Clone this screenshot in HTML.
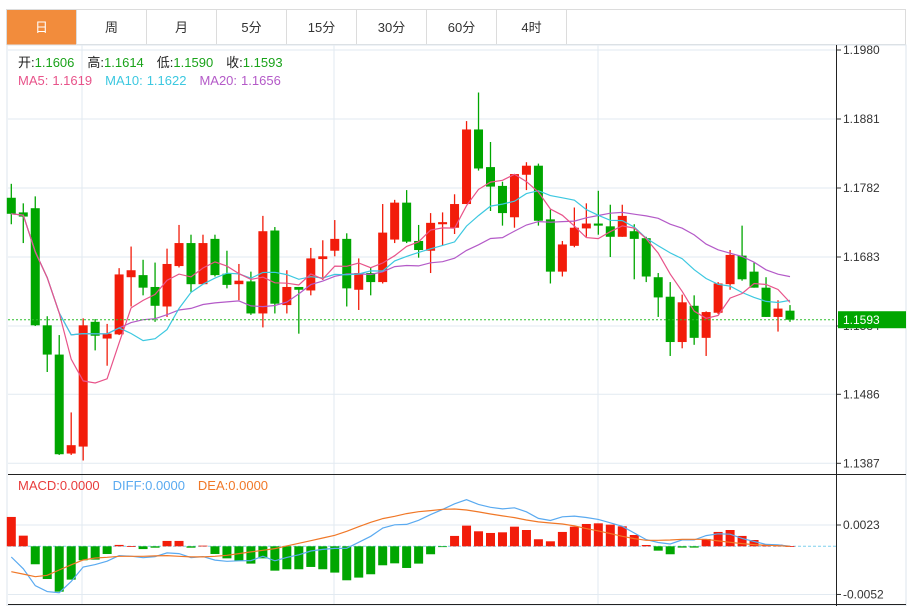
<!DOCTYPE html>
<html><head><meta charset="utf-8">
<style>
body{margin:0;background:#fff;font-family:"Liberation Sans","Noto Sans CJK SC",sans-serif;}
#wrap{position:relative;width:914px;height:606px;overflow:hidden;background:#fff;}
.tab{position:absolute;top:10px;height:35px;width:70px;box-sizing:border-box;border-right:1px solid #dcdcdc;text-align:center;line-height:35px;font-size:13px;color:#333;}
.tab.on{background:#f28c3c;color:#fff;}
</style></head><body>
<div id="wrap">
<div style="position:absolute;left:6px;top:9px;width:900px;height:36px;border:1px solid #dcdcdc;box-sizing:border-box;"></div>
<div class="tab on" style="left:7px">日</div>
<div class="tab" style="left:77px">周</div>
<div class="tab" style="left:147px">月</div>
<div class="tab" style="left:217px">5分</div>
<div class="tab" style="left:287px">15分</div>
<div class="tab" style="left:357px">30分</div>
<div class="tab" style="left:427px">60分</div>
<div class="tab" style="left:497px">4时</div>
<svg id="svg" width="914" height="606" style="position:absolute;left:0;top:0"></svg>
</div>
<script>
const opens=[1.1768,1.1747,1.1753,1.1585,1.1543,1.1401,1.1411,1.1590,1.1566,1.1572,1.1654,1.1657,1.1640,1.1612,1.1670,1.1703,1.1644,1.1709,1.1659,1.1644,1.1648,1.1602,1.1721,1.1614,1.1640,1.1635,1.1680,1.1692,1.1709,1.1636,1.1660,1.1647,1.1708,1.1761,1.1706,1.1692,1.1730,1.1725,1.1759,1.1866,1.1812,1.1785,1.1740,1.1801,1.1814,1.1737,1.1662,1.1699,1.1724,1.1731,1.1727,1.1712,1.1720,1.1710,1.1654,1.1626,1.1561,1.1613,1.1567,1.1603,1.1644,1.1685,1.1662,1.1639,1.1597,1.1606];
const highs=[1.1788,1.1760,1.1770,1.1598,1.1571,1.1460,1.1595,1.1594,1.1587,1.1667,1.1698,1.1679,1.1675,1.1695,1.1729,1.1715,1.1715,1.1715,1.1692,1.1673,1.1662,1.1742,1.1726,1.1664,1.1640,1.1696,1.1707,1.1736,1.1717,1.1681,1.1668,1.1759,1.1765,1.1779,1.1729,1.1746,1.1747,1.1773,1.1878,1.1919,1.1848,1.1791,1.1802,1.1819,1.1817,1.1751,1.1706,1.1754,1.1760,1.1778,1.1758,1.1758,1.1730,1.1712,1.1660,1.1647,1.1629,1.1628,1.1605,1.1647,1.1693,1.1728,1.1675,1.1654,1.1621,1.1614];
const lows=[1.1730,1.1703,1.1584,1.1518,1.1399,1.1399,1.1391,1.1549,1.1527,1.1571,1.1612,1.1628,1.1590,1.1597,1.1668,1.1633,1.1644,1.1655,1.1638,1.1621,1.1600,1.1582,1.1602,1.1602,1.1573,1.1628,1.1650,1.1684,1.1612,1.1607,1.1628,1.1645,1.1703,1.1703,1.1682,1.1660,1.1700,1.1716,1.1759,1.1807,1.1749,1.1728,1.1725,1.1779,1.1728,1.1645,1.1655,1.1697,1.1712,1.1715,1.1683,1.1712,1.1651,1.1647,1.1597,1.1541,1.1552,1.1557,1.1541,1.1601,1.1636,1.1649,1.1639,1.1597,1.1576,1.1590];
const closes=[1.1745,1.1741,1.1585,1.1543,1.1400,1.1413,1.1585,1.1570,1.1573,1.1658,1.1664,1.1639,1.1613,1.1673,1.1703,1.1644,1.1703,1.1657,1.1643,1.1649,1.1602,1.1720,1.1616,1.1640,1.1636,1.1681,1.1684,1.1709,1.1638,1.1660,1.1647,1.1718,1.1761,1.1705,1.1693,1.1732,1.1733,1.1759,1.1866,1.1810,1.1784,1.1746,1.1802,1.1814,1.1735,1.1662,1.1701,1.1725,1.1731,1.1728,1.1712,1.1742,1.1709,1.1655,1.1625,1.1561,1.1618,1.1567,1.1604,1.1645,1.1686,1.1651,1.1639,1.1597,1.1609,1.1593];
const macdHist=[0.00317,0.00115,-0.00194,-0.00353,-0.0049,-0.0036,-0.00151,-0.00144,-0.00083,0.00015,0.00002,-0.0003,-0.00015,0.00058,0.00058,-0.00015,0.00007,-0.00083,-0.0013,-0.00155,-0.00187,-0.0013,-0.00263,-0.00248,-0.00248,-0.00223,-0.00248,-0.00284,-0.00367,-0.00338,-0.00302,-0.00205,-0.00184,-0.00234,-0.00187,-0.00086,-0.00003,0.00112,0.00223,0.00162,0.00144,0.00151,0.00212,0.00176,0.00076,0.00054,0.00155,0.00212,0.00241,0.00248,0.00234,0.00216,0.00122,0.00014,-0.00047,-0.00086,-0.00014,-0.00014,0.00079,0.00155,0.00176,0.00112,0.00068,0.00018,0.00018,0.00002];
const deaVals=[-0.00274,-0.0030,-0.00328,-0.00313,-0.00256,-0.0020,-0.00148,-0.00126,-0.00119,-0.00108,-0.00108,-0.00108,-0.00104,-0.0010,-0.00108,-0.00115,-0.00115,-0.00108,-0.00097,-0.00079,-0.00061,-0.00043,-0.00025,0.00004,0.00032,0.00061,0.0009,0.00119,0.00162,0.00212,0.00259,0.00299,0.00324,0.00353,0.00374,0.00385,0.004,0.00403,0.00392,0.00371,0.00349,0.00328,0.0031,0.00284,0.00263,0.00252,0.00241,0.0022,0.00191,0.00166,0.00137,0.00108,0.00083,0.00065,0.00065,0.00068,0.00076,0.00076,0.00076,0.00058,0.00043,0.00029,0.00018,0.00011,0.00007,0];
const priceTicks=["1.1980","1.1881","1.1782","1.1683","1.1584","1.1486","1.1387"];
const priceTickVals=[1.1980,1.1881,1.1782,1.1683,1.1584,1.1486,1.1387];
const macdTicks=["0.0023","-0.0052"];
const macdTickVals=[0.0023,-0.0052];

const NS="http://www.w3.org/2000/svg";
const svg=document.getElementById('svg');
const RED="#f21c0a",GREEN="#00a600";
const X0=8,X1=836;
function xs(i){return 11.3+i*11.98;}
function yp(p){return 50+(1.1980-p)/0.0099*69;}
function ym(v){return 546.3-v/0.0023*21.3;}
function mk(tag,attrs){const e=document.createElementNS(NS,tag);for(const k in attrs)e.setAttribute(k,attrs[k]);svg.appendChild(e);return e;}
function txt(x,y,s,fill,size,anchor){const t=mk('text',{x:x,y:y,fill:fill,'font-size':size||12,'font-family':'"Liberation Sans","Noto Sans CJK SC",sans-serif'});if(anchor)t.setAttribute('text-anchor',anchor);t.textContent=s;return t;}

let e;
e=mk('rect',{x:7,y:45,width:899,height:561,fill:'none',stroke:'#dde6ee'});

priceTickVals.forEach((v,i)=>{
  e=mk('line',{x1:X0,x2:X1,y1:yp(v),y2:yp(v),stroke:'#e2eaf1'});
  
  e=mk('line',{x1:X1,x2:X1+5,y1:yp(v),y2:yp(v),stroke:'#333'});
  
  e=txt(843,yp(v)+4,priceTicks[i],'#333',12);
  
});
[82,334,598].forEach(x=>{e=mk('line',{x1:x,x2:x,y1:45,y2:604,stroke:'#e2eaf1'});
  });
macdTickVals.forEach((v,i)=>{
  e=mk('line',{x1:X0,x2:X1,y1:ym(v),y2:ym(v),stroke:'#e2eaf1'});
  
  e=mk('line',{x1:X1,x2:X1+5,y1:ym(v),y2:ym(v),stroke:'#333'});
  
  e=txt(843,ym(v)+4,macdTicks[i],'#333',12);
  
});
e=mk('line',{x1:X0,x2:906,y1:474.5,y2:474.5,stroke:'#222'});

e=mk('line',{x1:X0,x2:906,y1:604.5,y2:604.5,stroke:'#222'});

e=mk('line',{x1:X1+.5,x2:X1+.5,y1:45,y2:606,stroke:'#222'});

e=mk('line',{x1:X0,x2:X1,y1:546.3,y2:546.3,stroke:'#7fd0ee','stroke-dasharray':'3,2'});


const n=closes.length;
for(let i=0;i<n;i++){
  const up=closes[i]>=opens[i];const c=up?RED:GREEN;const x=xs(i);
  const g=mk('g',{});
  
  const w=document.createElementNS(NS,'line');
  [['x1',x],['x2',x],['y1',yp(highs[i])],['y2',yp(lows[i])],['stroke',c],['stroke-width',1.3]].forEach(a=>w.setAttribute(a[0],a[1]));
  
  g.appendChild(w);
  const top=yp(Math.max(opens[i],closes[i])),bot=yp(Math.min(opens[i],closes[i]));
  const r=document.createElementNS(NS,'rect');
  [['x',x-4.5],['y',top],['width',9],['height',Math.max(1.5,bot-top)],['fill',c]].forEach(a=>r.setAttribute(a[0],a[1]));
  
  g.appendChild(r);
}
function ma(k){return closes.map((_,i)=>{const s=Math.max(0,i-k+1);let t=0;for(let j=s;j<=i;j++)t+=closes[j];return t/(i-s+1);});}
function poly(vals,fy,color,name){
  const pts=vals.map((v,i)=>xs(i).toFixed(1)+','+fy(v).toFixed(1)).join(' ');
  const p=mk('polyline',{points:pts,fill:'none',stroke:color,'stroke-width':1.2});
  
}
poly(ma(20),yp,'#b45ac8','ma20-line');
poly(ma(10),yp,'#3cc8e0','ma10-line');
poly(ma(5),yp,'#e8538a','ma5-line');
const lp=closes[n-1];
e=mk('line',{x1:X0,x2:X1,y1:yp(lp),y2:yp(lp),stroke:'#2fbf2f','stroke-dasharray':'2,2'});

e=mk('rect',{x:838,y:yp(lp)-8.5,width:68,height:17,fill:GREEN});

e=txt(843,yp(lp)+4.5,lp.toFixed(4),'#fff',12);


for(let i=0;i<n;i++){
  const v=macdHist[i];const y=ym(v),z=ym(0);
  e=mk('rect',{x:xs(i)-4.5,y:Math.min(y,z),width:9,height:Math.max(0.8,Math.abs(y-z)),fill:v>=0?RED:GREEN});
  
}
const diffVals=deaVals.map((d,i)=>d+macdHist[i]/2);
poly(diffVals,ym,'#5aaaf0','diff-line');
poly(deaVals,ym,'#f07828','dea-line');

let lx=18;
function leg(label,val,lc,vc,name,y,gap){
  const t=txt(lx,y,label,lc,13);
  const w=t.getComputedTextLength();
  const t2=txt(lx+w+gap,y,val,vc,13);
  lx+=w+gap+t2.getComputedTextLength()+13;
}
leg('开:','1.1606','#222','#1aa31a','legend-open',67,0);
leg('高:','1.1614','#222','#1aa31a','legend-high',67,0);
leg('低:','1.1590','#222','#1aa31a','legend-low',67,0);
leg('收:','1.1593','#222','#1aa31a','legend-close',67,0);
lx=18;
leg('MA5:','1.1619','#e8538a','#e8538a','legend-ma5',85,4);
leg('MA10:','1.1622','#3cc8e0','#3cc8e0','legend-ma10',85,4);
leg('MA20:','1.1656','#b45ac8','#b45ac8','legend-ma20',85,4);
lx=18;
leg('MACD:','0.0000','#e83c3c','#e83c3c','legend-macd',490,0);
leg('DIFF:','0.0000','#5aaaf0','#5aaaf0','legend-diff',490,0);
leg('DEA:','0.0000','#f07828','#f07828','legend-dea',490,0);
</script>
</body></html>
